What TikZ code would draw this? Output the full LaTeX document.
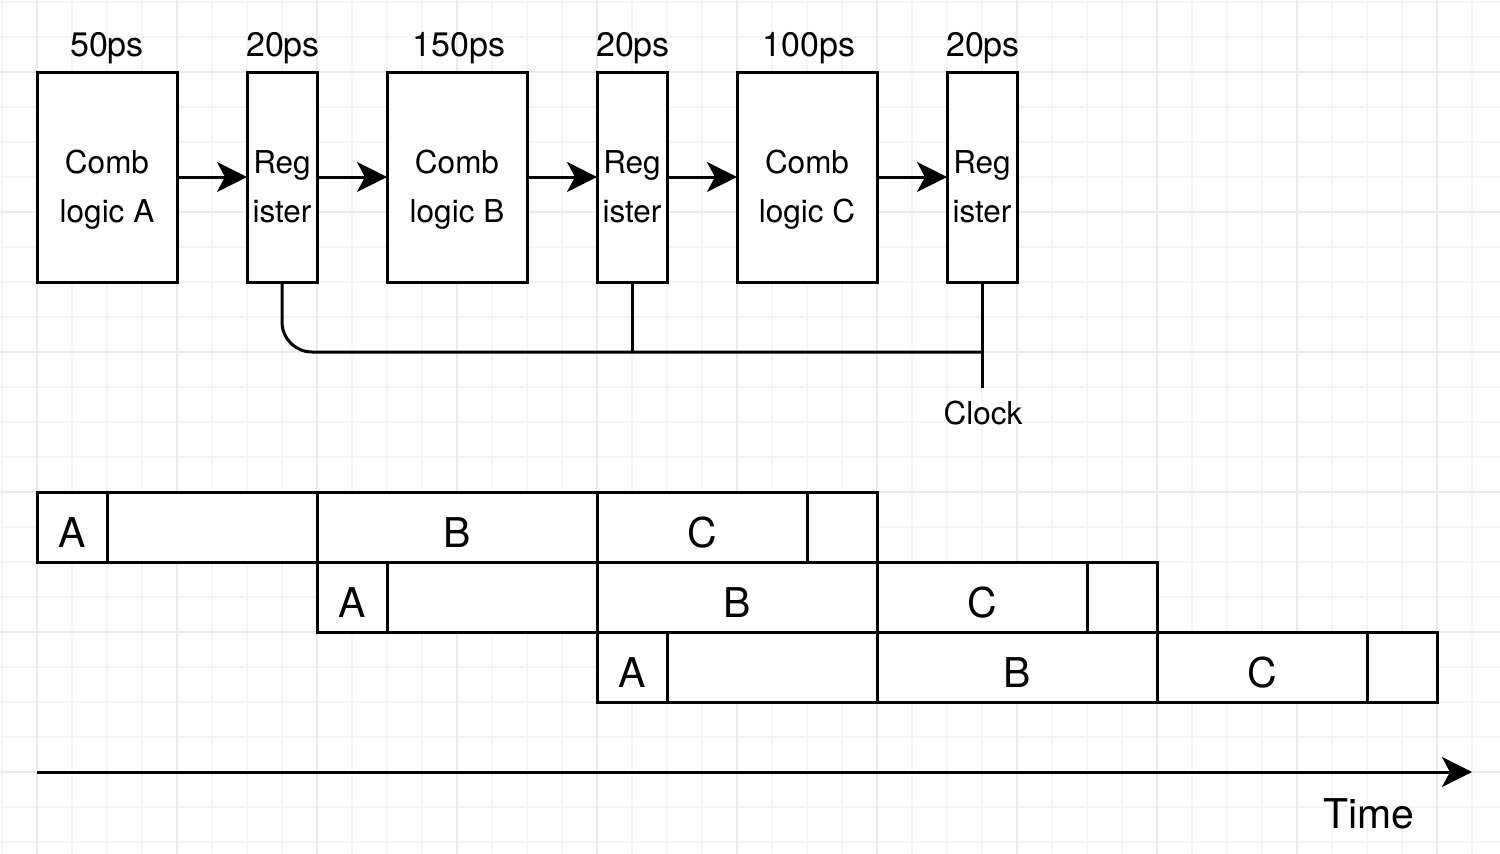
\documentclass[tikz,border=0pt]{standalone}
\usepackage{fontspec}
\setmainfont{TeX Gyre Heros}
\usetikzlibrary{arrows.meta}
\definecolor{gridminor}{HTML}{F5F5F5}
\definecolor{gridmajor}{HTML}{EBEBEB}
\tikzset{
  blk/.style={draw=black, line width=3pt, fill=white, inner sep=0pt, outer sep=0pt},
  arr/.style={line width=3pt, -{Stealth[length=30pt, width=30pt, inset=8pt]}},
  wire/.style={line width=3pt},
  boxtxt/.style={anchor=base, inner sep=0pt, font=\fontsize{31.5}{36}\selectfont},
  toplbl/.style={anchor=base, inner sep=0pt, font=\fontsize{34}{40}\selectfont},
  slot/.style={blk, minimum height=70pt, text height=40pt, text depth=0pt, font=\fontsize{41}{48}\selectfont},
}
\begin{document}
\begin{tikzpicture}[x=1pt, y=-1pt]
\useasboundingbox (0,0) rectangle (1500,854);
\fill[white] (0,0) rectangle (1500,854);
% grid
\foreach \i in {0,...,42} {
  \draw[gridminor, line width=1.5pt] ({2+35*\i},0) -- ({2+35*\i},854);
}
\foreach \j in {0,...,24} {
  \draw[gridminor, line width=1.5pt] (0,{2+35*\j}) -- (1500,{2+35*\j});
}
\foreach \i in {1,5,...,41} {
  \draw[gridmajor, line width=1.5pt] ({2+35*\i},0) -- ({2+35*\i},854);
}
\foreach \j in {2,6,...,24} {
  \draw[gridmajor, line width=1.5pt] (0,{2+35*\j}) -- (1500,{2+35*\j});
}

% top pipeline
\node[blk, minimum width=140pt, minimum height=210pt] (ca) at (107,177) {};
\node[blk, minimum width=70pt, minimum height=210pt] (r1) at (282,177) {};
\node[blk, minimum width=140pt, minimum height=210pt] (cb) at (457,177) {};
\node[blk, minimum width=70pt, minimum height=210pt] (r2) at (632,177) {};
\node[blk, minimum width=140pt, minimum height=210pt] (cc) at (807,177) {};
\node[blk, minimum width=70pt, minimum height=210pt] (r3) at (982,177) {};

\node[boxtxt] (ca1) at (107,173) {Comb};
\node[boxtxt] (ca2) at (107,222) {logic A};
\node[boxtxt] (r1a) at (282,173) {Reg};
\node[boxtxt] (r1b) at (282,222) {ister};
\node[boxtxt] (cb1) at (457,173) {Comb};
\node[boxtxt] (cb2) at (457,222) {logic B};
\node[boxtxt] (r2a) at (632,173) {Reg};
\node[boxtxt] (r2b) at (632,222) {ister};
\node[boxtxt] (cc1) at (807,173) {Comb};
\node[boxtxt] (cc2) at (807,222) {logic C};
\node[boxtxt] (r3a) at (982,173) {Reg};
\node[boxtxt] (r3b) at (982,222) {ister};

\node[toplbl] (t1) at (107,56) {50ps};
\node[toplbl] (t2) at (283,56) {20ps};
\node[toplbl] (t3) at (459,56) {150ps};
\node[toplbl] (t4) at (633,56) {20ps};
\node[toplbl] (t5) at (809,56) {100ps};
\node[toplbl] (t6) at (983,56) {20ps};

\draw[arr] (ca.east) -- (r1.west);
\draw[arr] (r1.east) -- (cb.west);
\draw[arr] (cb.east) -- (r2.west);
\draw[arr] (r2.east) -- (cc.west);
\draw[arr] (cc.east) -- (r3.west);

% clock
\coordinate (bus) at (982,352);
\coordinate (clk) at (982,388);
\draw[wire, rounded corners=30pt] (r1.south) |- (bus);
\draw[wire] (r2.south) -- (r2.south |- bus);
\draw[wire] (r3.south) -- (clk);
\node[boxtxt] (clock) at (983,424) {Clock};

% timing rows
\node[slot, minimum width=70pt]  (a1) at (72,527) {A};
\node[slot, minimum width=210pt] (w1) at (212,527) {};
\node[slot, minimum width=280pt] (b1) at (457,527) {B};
\node[slot, minimum width=210pt] (c1) at (702,527) {C};
\node[slot, minimum width=70pt]  (e1) at (842,527) {};

\node[slot, minimum width=70pt]  (a2) at (352,597) {A};
\node[slot, minimum width=210pt] (w2) at (492,597) {};
\node[slot, minimum width=280pt] (b2) at (737,597) {B};
\node[slot, minimum width=210pt] (c2) at (982,597) {C};
\node[slot, minimum width=70pt]  (e2) at (1122,597) {};

\node[slot, minimum width=70pt]  (a3) at (632,667) {A};
\node[slot, minimum width=210pt] (w3) at (772,667) {};
\node[slot, minimum width=280pt] (b3) at (1017,667) {B};
\node[slot, minimum width=210pt] (c3) at (1262,667) {C};
\node[slot, minimum width=70pt]  (e3) at (1402,667) {};

% time axis
\coordinate (ts) at (37,772);
\coordinate (te) at (1472,772);
\draw[arr] (ts) -- (te);
\node[anchor=base, inner sep=0pt, font=\fontsize{41}{48}\selectfont] (time) at (1369,828) {Time};
\end{tikzpicture}
\end{document}
